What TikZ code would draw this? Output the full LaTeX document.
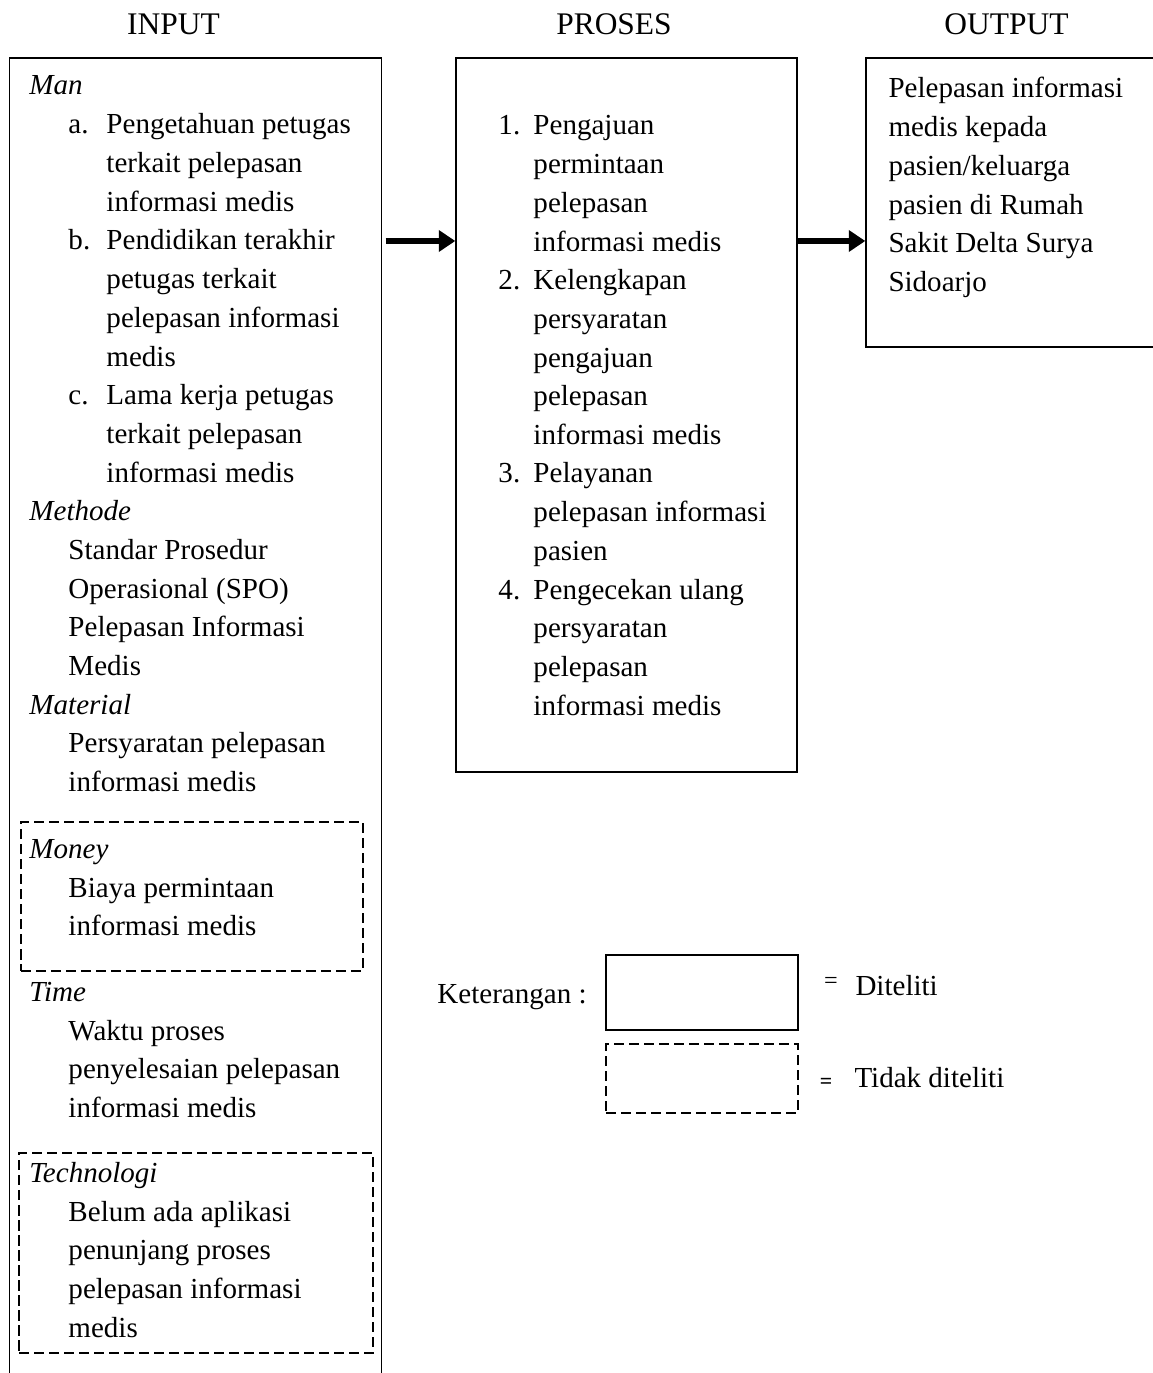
\documentclass[tikz,border=0pt]{standalone}
\usepackage{fontspec}
\setmainfont{Liberation Serif}
\usetikzlibrary{arrows.meta,fit}
\newcommand\ml[1]{\begin{tabular}[t]{@{}l@{}}#1\end{tabular}}
\begin{document}
\begin{tikzpicture}[x=0.4132pt,y=-0.4132pt,
  txt/.style={anchor=base west,inner sep=0pt,font=\fontsize{12}{16}\selectfont},
  head/.style={anchor=base,inner sep=0pt,font=\fontsize{13}{16}\selectfont},
  box/.style={draw,line width=0.6pt,inner sep=0pt},
  dbox/.style={draw,line width=0.8pt,dash pattern=on 4.2pt off 2pt,inner sep=0pt},
  bigarrow/.style={line width=2.4pt,-{Triangle[length=6.8pt,width=8.6pt]}}]
\useasboundingbox (0,0) rectangle (1152,1373);

% headings
\node[head] (hin) at (173.5,35) {INPUT};
\node[head] (hpr) at (614,35) {PROSES};
\node[head] (hout) at (1006.5,35) {OUTPUT};

% frames
\node[box,fit={(9.5,58)(381.5,1400)}] (inbox) {};
\node[box,fit={(456,58)(797,772)}] (procbox) {};
\node[box,fit={(866,58)(1170,347)}] (outbox) {};
\node[dbox,fit={(21,822)(363,971)}] (moneybox) {};
\node[dbox,fit={(19,1153)(373,1353)}] (techbox) {};

% input text
\node[txt] (man) at (29,95) {\itshape Man};
\node[txt] (la) at (68,134) {a.};
\node[txt] (ta) at (106,134) {\ml{Pengetahuan petugas\\terkait pelepasan\\informasi medis}};
\node[txt] (lb) at (68,250) {b.};
\node[txt] (tb) at (106,250) {\ml{Pendidikan terakhir\\petugas terkait\\pelepasan informasi\\medis}};
\node[txt] (lc) at (68,404.7) {c.};
\node[txt] (tc) at (106,404.7) {\ml{Lama kerja petugas\\terkait pelepasan\\informasi medis}};
\node[txt] (meth) at (29,520.7) {\itshape Methode};
\node[txt] (tmeth) at (68,559.3) {\ml{Standar Prosedur\\Operasional (SPO)\\Pelepasan Informasi\\Medis}};
\node[txt] (mat) at (29,714) {\itshape Material};
\node[txt] (tmat) at (68,752.7) {\ml{Persyaratan pelepasan\\informasi medis}};
\node[txt] (mon) at (29,858) {\itshape Money};
\node[txt] (tmon) at (68,897) {\ml{Biaya permintaan\\informasi medis}};
\node[txt] (time) at (29,1001) {\itshape Time};
\node[txt] (ttime) at (68,1040) {\ml{Waktu proses\\penyelesaian pelepasan\\informasi medis}};
\node[txt] (tech) at (29,1182) {\itshape Technologi};
\node[txt] (ttech) at (68,1221) {\ml{Belum ada aplikasi\\penunjang proses\\pelepasan informasi\\medis}};

% process text
\node[txt] (p1) at (498,135) {1.};
\node[txt] (tp1) at (533,135) {\ml{Pengajuan\\permintaan\\pelepasan\\informasi medis}};
\node[txt] (p2) at (498,289.7) {2.};
\node[txt] (tp2) at (533,289.7) {\ml{Kelengkapan\\persyaratan\\pengajuan\\pelepasan\\informasi medis}};
\node[txt] (p3) at (498,483) {3.};
\node[txt] (tp3) at (533,483) {\ml{Pelayanan\\pelepasan informasi\\pasien}};
\node[txt] (p4) at (498,599) {4.};
\node[txt] (tp4) at (533,599) {\ml{Pengecekan ulang\\persyaratan\\pelepasan\\informasi medis}};

% output text
\node[txt] (tout) at (888,98) {\ml{Pelepasan informasi\\medis kepada\\pasien/keluarga\\pasien di Rumah\\Sakit Delta Surya\\Sidoarjo}};

% arrows
\coordinate (arow) at (0,241);
\draw[bigarrow] ([xshift=1.4pt]inbox.east |- arow) -- (procbox.west |- arow);
\draw[bigarrow] ([xshift=0.3pt]procbox.east |- arow) -- (outbox.west |- arow);

% legend
\node[txt] (ket) at (437,1003) {Keterangan :};
\node[box,line width=0.8pt,fit={(606,955)(798,1030)}] (leg1) {};
\node[dbox,fit={(606,1044)(798,1113)}] (leg2) {};
\node[inner sep=0pt,font=\fontsize{10}{12}\selectfont] (eq1) at (831,983) {=};
\node[txt] (dit) at (855,995) {Diteliti};
\node[inner sep=0pt,font=\fontsize{9}{12}\selectfont\bfseries] (eq2) at (826,1083) {=};
\node[txt] (tdit) at (854,1087) {Tidak diteliti};
\end{tikzpicture}
\end{document}
